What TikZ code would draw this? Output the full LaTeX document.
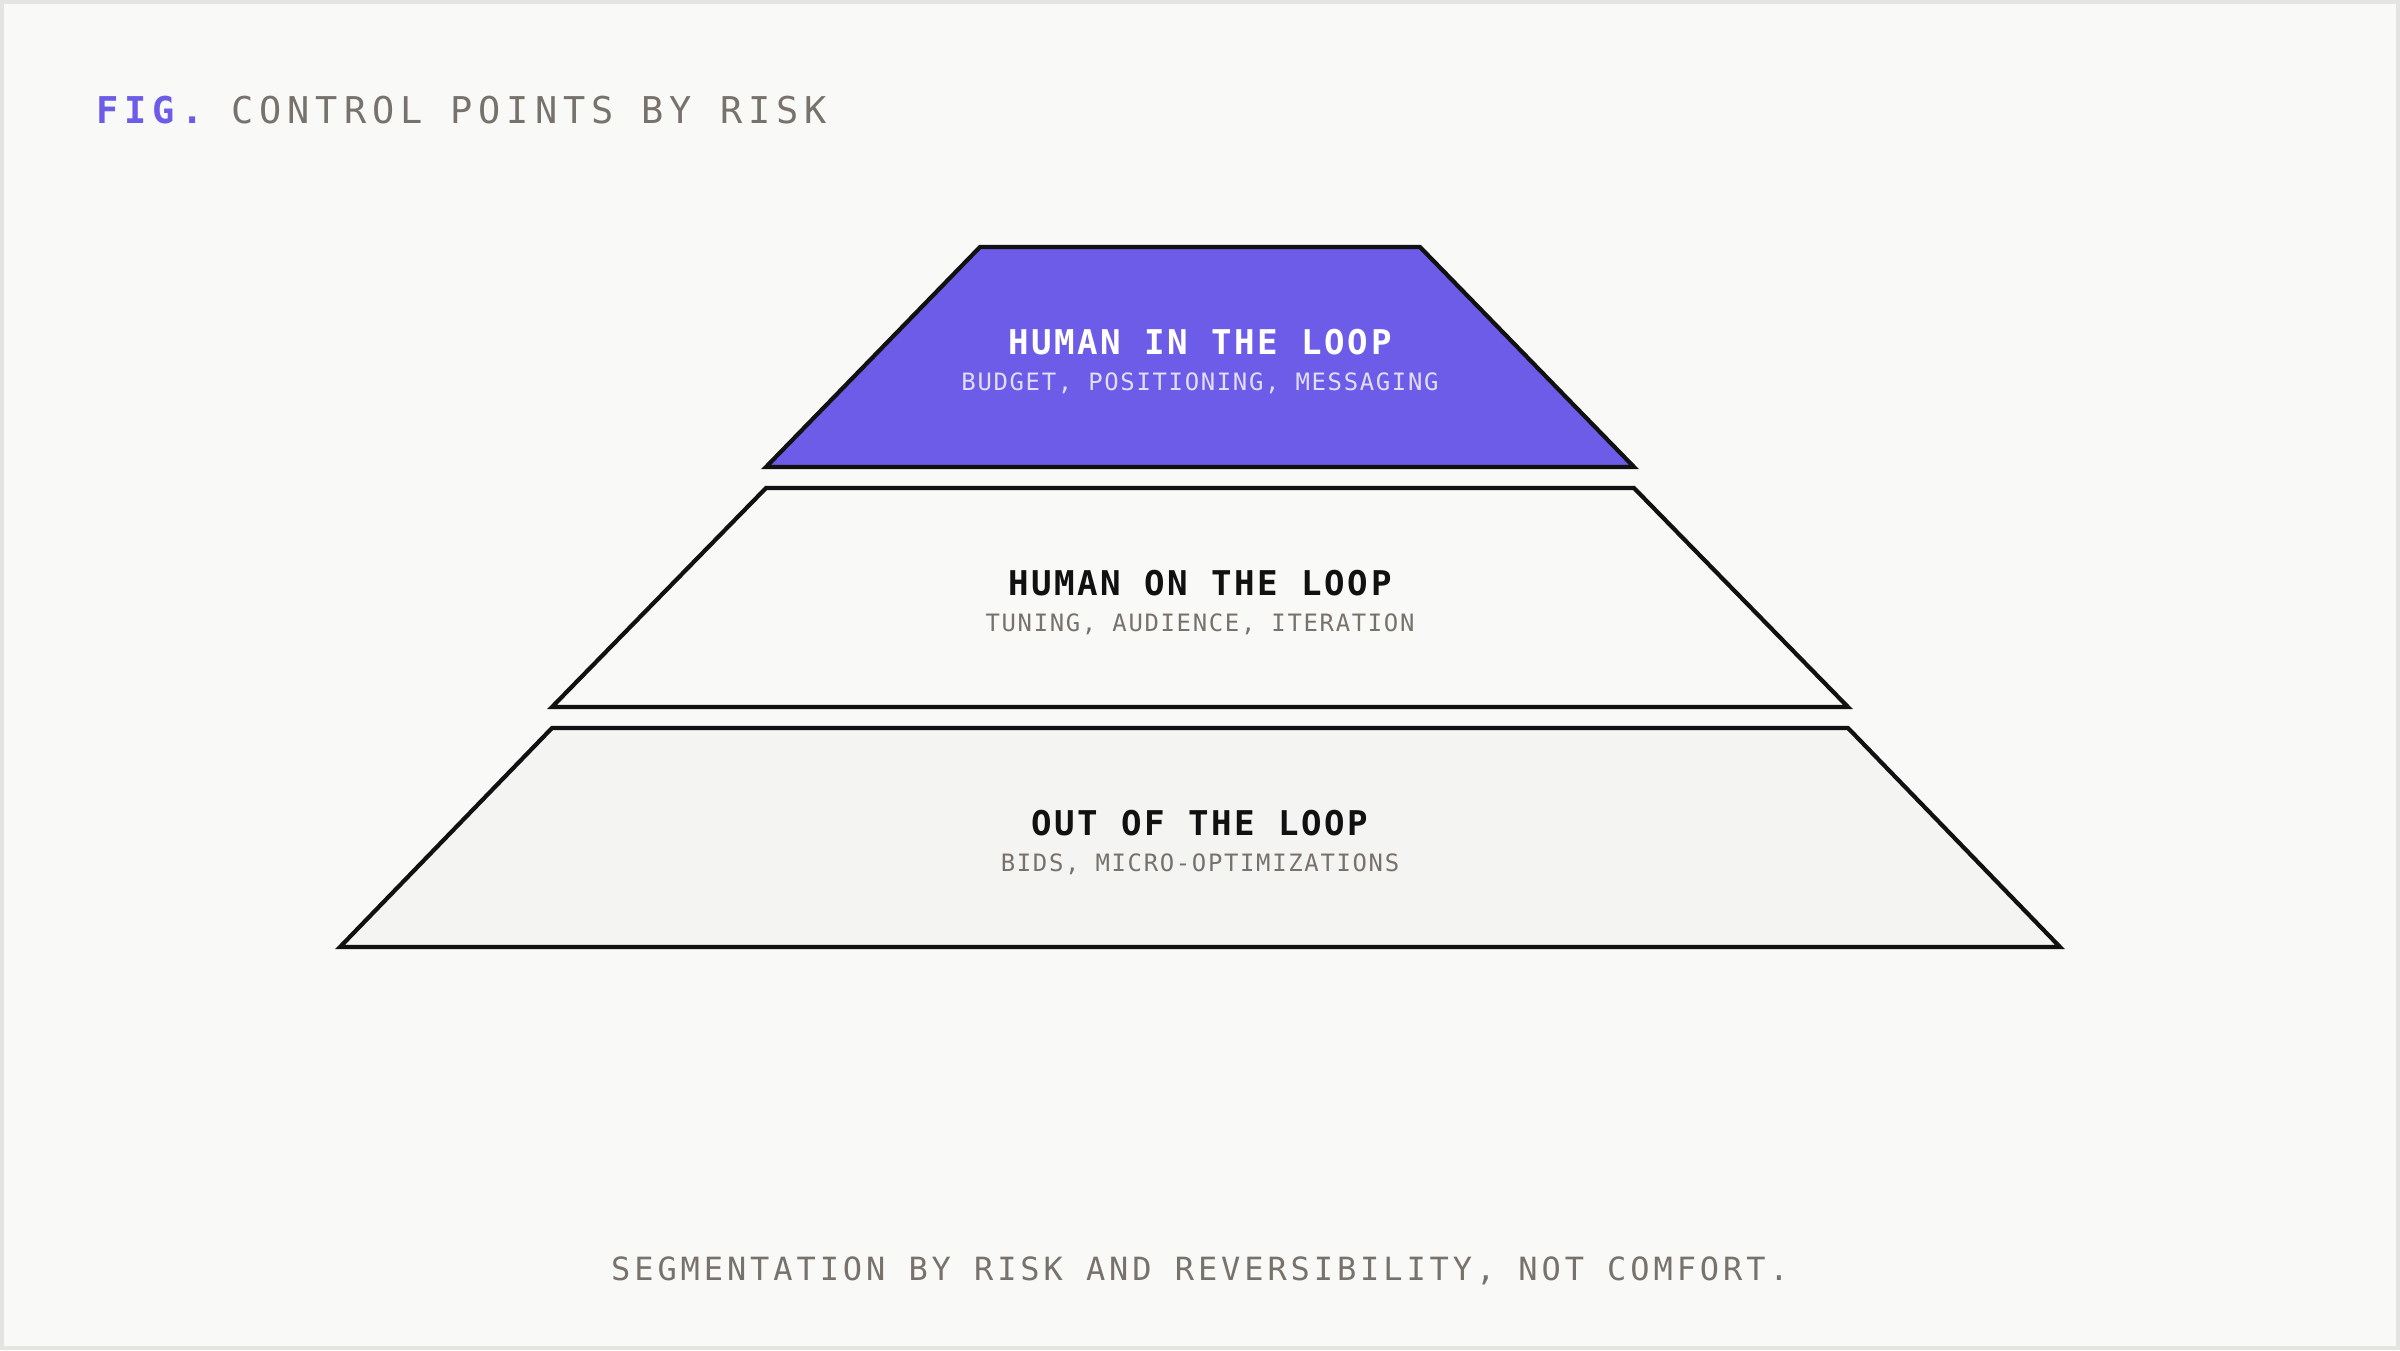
\documentclass[tikz,border=0pt]{standalone}
\usepackage{fontspec}
\newfontfamily\titlefont[LetterSpace=16]{DejaVu Sans Mono}
\newfontfamily\headfont[LetterSpace=7.7,BoldFont={DejaVu Sans Mono Bold}]{DejaVu Sans Mono}
\newfontfamily\subfont[LetterSpace=7]{DejaVu Sans Mono}
\newfontfamily\footfont[LetterSpace=12.2]{DejaVu Sans Mono}
\definecolor{bg}{HTML}{F9F9F7}
\definecolor{frame}{HTML}{E4E4E2}
\definecolor{accent}{HTML}{6C5CE7}
\definecolor{muted}{HTML}{78726C}
\definecolor{lavender}{HTML}{E2DEFA}
\definecolor{tierlow}{HTML}{F4F4F2}
\definecolor{ink}{HTML}{111111}
\begin{document}
\begin{tikzpicture}[x=0.01cm,y=-0.01cm,
  tier/.style={draw=ink,line width=1.2pt,line join=miter},
  headtxt/.style={anchor=base,inner sep=0pt,font=\headfont\bfseries\fontsize{9.7pt}{11pt}\selectfont},
  subtxt/.style={anchor=base,inner sep=0pt,font=\subfont\fontsize{6.8pt}{8pt}\selectfont},
]
\fill[frame] (0,0) rectangle (2400,1350);
\fill[bg] (4,4) rectangle (2396,1346);
\useasboundingbox (0,0) rectangle (2400,1350);

% title
\node[anchor=base west,inner sep=0pt,font=\titlefont\fontsize{10.5pt}{12pt}\selectfont] (title) at (96,123)
  {\textcolor{accent}{\bfseries FIG.} \textcolor{muted}{CONTROL POINTS BY RISK}};

% tiers
\draw[tier,fill=accent] (980,247) -- (1420,247) -- (1634,467) -- (766,467) -- cycle;
\draw[tier,fill=bg] (766,488) -- (1634,488) -- (1848,707) -- (552,707) -- cycle;
\draw[tier,fill=tierlow] (552,728) -- (1848,728) -- (2060,947) -- (340,947) -- cycle;

\node[headtxt,text=white] (h1) at (1200,354) {HUMAN IN THE LOOP};
\node[subtxt,text=lavender] (s1) at (1200,390) {BUDGET, POSITIONING, MESSAGING};
\node[headtxt,text=ink] (h2) at (1200,595) {HUMAN ON THE LOOP};
\node[subtxt,text=muted] (s2) at (1200,631) {TUNING, AUDIENCE, ITERATION};
\node[headtxt,text=ink] (h3) at (1200,835) {OUT OF THE LOOP};
\node[subtxt,text=muted] (s3) at (1200,871) {BIDS, MICRO-OPTIMIZATIONS};

% footer
\node[anchor=base,inner sep=0pt,text=muted,font=\footfont\fontsize{9.1pt}{11pt}\selectfont] (foot) at (1200,1280)
  {SEGMENTATION BY RISK AND REVERSIBILITY, NOT COMFORT.};
\end{tikzpicture}
\end{document}
